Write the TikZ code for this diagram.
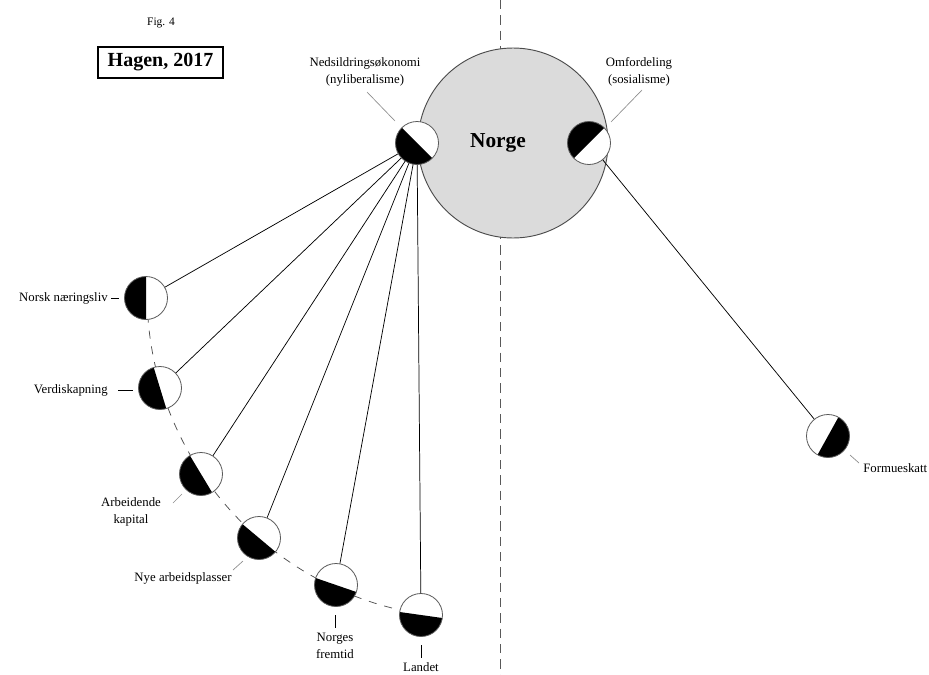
\documentclass[tikz,border=0pt]{standalone}
\usepackage{fontspec}
\setmainfont{Liberation Serif}
\begin{document}
\begin{tikzpicture}[x=0.75pt,y=0.75pt,
  halfc/.style={circle, draw=black!65, line width=0.6pt, fill=white,
    minimum size=32.25pt, inner sep=0pt,
    path picture={\fill[black] (path picture bounding box.center) ++(#1:20pt)
      arc[start angle=#1, delta angle=180, radius=20pt] -- cycle;}},
  lbl/.style={font=\fontsize{9.6}{12.75}\selectfont, align=center, inner sep=0pt},
  spoke/.style={line width=0.55pt, black},
  blacktick/.style={line width=0.7pt, black},
  graytick/.style={line width=0.5pt, black!45},
]
\useasboundingbox (0,0) rectangle (929,-675);

% dividing dashed line
\draw[black!65, line width=0.6pt, dash pattern=on 7pt off 4.5pt] (500,0) -- (500,-675);

% dashed arc behind the small circles
\draw[black!70, line width=0.55pt, dash pattern=on 6pt off 6pt]
  (472,-293) ++(181:325) arc[start angle=181, end angle=261, radius=243.75pt];

% big circle
\node[circle, draw=black!70, line width=0.7pt, fill=black!14, minimum size=142.5pt, inner sep=0pt] (norge) at (513,-143) {};
\node[font=\fontsize{16}{18}\selectfont\bfseries, inner sep=0pt] (norgetxt) at (498,-143) {Norge};

% title
\node[font=\fontsize{8.6}{10}\selectfont, inner sep=0pt] (fig) at (161,-23) {Fig. 4};
\node[draw=black, line width=0.8pt, minimum width=93.75pt, minimum height=23.25pt, inner sep=0pt,
  font=\fontsize{15}{17}\selectfont\bfseries] (hagen) at (160.5,-62.5) {Hagen, 2017};

% half-filled circles
\node[halfc=135] (ned) at (417,-143) {};
\node[halfc=45]  (omf) at (589,-143) {};
\node[halfc=90]  (n1) at (146,-298) {};
\node[halfc=107] (n2) at (160,-388) {};
\node[halfc=121] (n3) at (201,-474) {};
\node[halfc=140] (n4) at (259,-538) {};
\node[halfc=161] (n5) at (336,-585) {};
\node[halfc=172] (n6) at (421,-615) {};
\node[halfc=241] (form) at (828,-436) {};

% spokes
\foreach \n in {n1,n2,n3,n4,n5,n6} \draw[spoke] (ned) -- (\n);
\draw[spoke] (omf) -- (form);

% labels
\node[lbl] (lned) at (365,-71.5) {Nedsildringsøkonomi\\(nyliberalisme)};
\node[lbl] (lomf) at (639,-71.5) {Omfordeling\\(sosialisme)};
\node[lbl, anchor=east] (l1) at (108,-298) {Norsk næringsliv};
\node[lbl, anchor=east] (l2) at (108,-390) {Verdiskapning};
\node[lbl] (l3) at (131,-512) {Arbeidende\\kapital};
\node[lbl] (l4) at (183,-578) {Nye arbeidsplasser};
\node[lbl] (l5) at (335,-646) {Norges\\fremtid};
\node[lbl] (l6) at (421,-667) {Landet};
\node[lbl, anchor=west] (lform) at (863,-468) {Formueskatt};

% leader ticks
\coordinate (t1a) at (111,-298); \coordinate (t1b) at (119,-298);
\coordinate (t2a) at (118,-390); \coordinate (t2b) at (133,-390);
\coordinate (t3a) at (173,-503); \coordinate (t3b) at (182,-494);
\coordinate (t4a) at (233,-570); \coordinate (t4b) at (243,-561);
\coordinate (t5a) at (335,-615); \coordinate (t5b) at (335,-628);
\coordinate (t6a) at (421,-645); \coordinate (t6b) at (421,-658);
\coordinate (tfa) at (850,-455); \coordinate (tfb) at (859,-463);
\coordinate (tna) at (367,-92);  \coordinate (tnb) at (395,-121);
\coordinate (toa) at (611,-122); \coordinate (tob) at (642,-90);
\draw[blacktick] (t1a) -- (t1b);
\draw[blacktick] (t2a) -- (t2b);
\draw[graytick] (t3a) -- (t3b);
\draw[graytick] (t4a) -- (t4b);
\draw[blacktick] (t5a) -- (t5b);
\draw[blacktick] (t6a) -- (t6b);
\draw[graytick] (tfa) -- (tfb);
\draw[graytick] (tna) -- (tnb);
\draw[graytick] (toa) -- (tob);
\end{tikzpicture}
\end{document}
